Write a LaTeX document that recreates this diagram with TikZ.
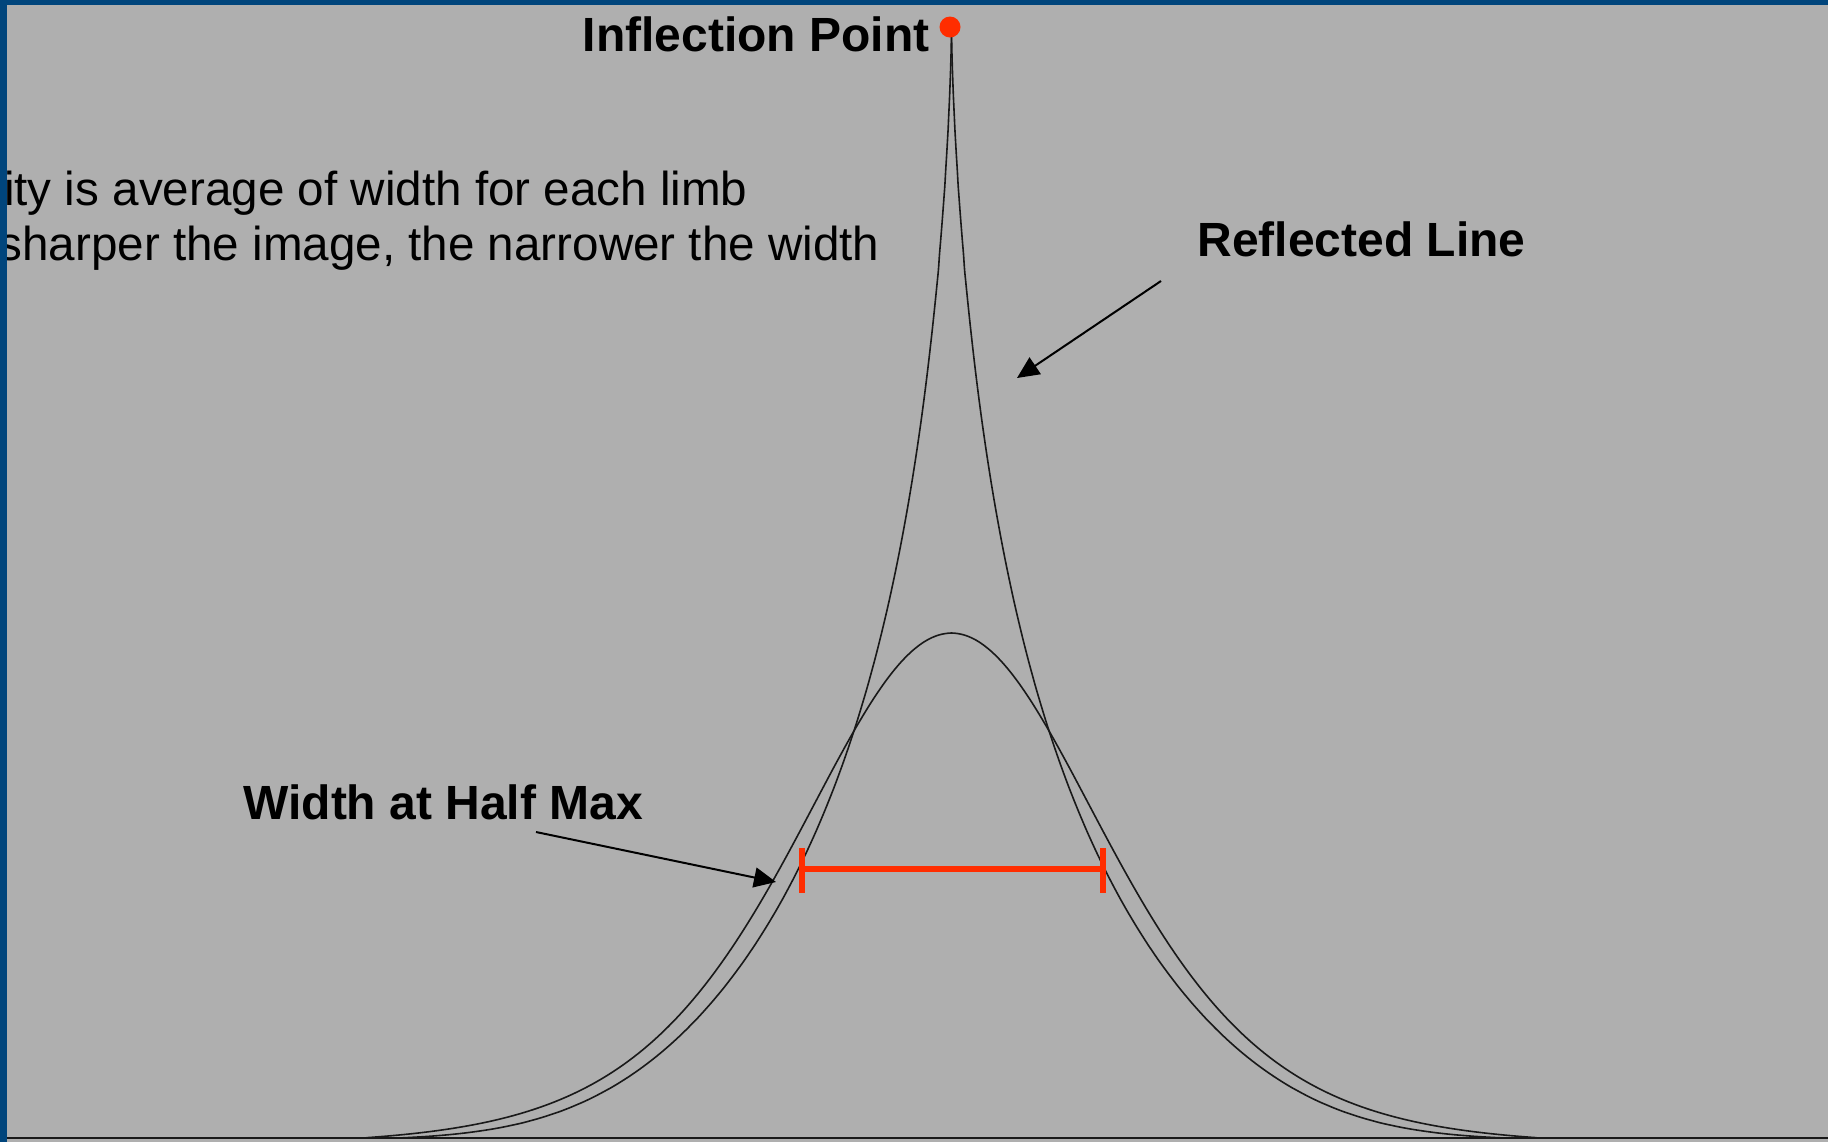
\documentclass[tikz,border=0pt]{standalone}
\usepackage{fontspec}
\setmainfont{Liberation Sans}
\usetikzlibrary{arrows.meta}
\definecolor{bg}{RGB}{175,175,175}
\definecolor{frameblue}{RGB}{0,69,124}
\definecolor{hotred}{RGB}{255,45,0}
\definecolor{curvecol}{RGB}{25,25,25}
\begin{document}
\begin{tikzpicture}[x=0.5pt,y=-0.5pt,
  lbl/.style={font=\bfseries\fontsize{24}{28}\selectfont, inner sep=0pt},
  body/.style={font=\fontsize{23.8}{28}\selectfont, inner sep=0pt},
  curveline/.style={draw=curvecol, line width=0.8pt, line join=round},
  pointer/.style={draw=black, line width=1pt, -{Triangle[length=11pt,width=10pt]}},
  bar/.style={draw=hotred, line width=2.8pt}]
\useasboundingbox (0,0) rectangle (1828,1142);
\fill[bg] (0,0) rectangle (1828,1142);
% body text (clipped at the left edge, as in the reference)
\begin{scope}
\clip (0,0) rectangle (1828,1142);
\node[body, anchor=base east] (line1) at (748,205) {ity is average of width for each limb};
\node[body, anchor=base east] (line2) at (880,260) {sharper the image, the narrower the width};
\end{scope}
% baseline
\coordinate (bl) at (7,1138);
\coordinate (br) at (1828,1138);
\draw[draw=curvecol, line width=0.75pt] (bl) -- (br);
% curves
\begin{scope}[shift={(951.5,0)}]
% rounded (half max) curve
\draw[curveline] plot[domain=-585:585, samples=241, smooth] (\x, {1138 - max(512/((cosh(\x/208))^2) - 7, 0)});
% reflected (cusp) line, left and right limbs
\draw[curveline] plot[domain=0.2:23.8, samples=160, smooth, variable=\t]
  ({-\t*\t}, {1138 - max(1111*exp(0 - ((\t*\t/100)^0.7) - ((\t*\t/384)^3)) - 2, 0)});
\draw[curveline] plot[domain=0.2:23.8, samples=160, smooth, variable=\t]
  ({\t*\t}, {1138 - max(1111*exp(0 - ((\t*\t/100)^0.7) - ((\t*\t/384)^3)) - 2, 0)});
\end{scope}
% width at half max bar
\coordinate (hl) at (802,869);
\coordinate (hr) at (1103,869);
\coordinate (hlt) at (802,848);
\coordinate (hlb) at (802,893);
\coordinate (hrt) at (1103,848);
\coordinate (hrb) at (1103,893);
\draw[bar] (hl) -- (hr);
\draw[draw=hotred, line width=3pt] (hlt) -- (hlb);
\draw[draw=hotred, line width=3pt] (hrt) -- (hrb);
% inflection point
\node[circle, fill=hotred, inner sep=0pt, minimum size=10.5pt] (ip) at (950,27) {};
% labels
\node[lbl, anchor=base east] (infl) at (930,51) {Inflection Point};
\node[lbl, anchor=base west] (refl) at (1197,256) {Reflected Line};
\node[lbl, anchor=base west] (whm) at (243,819) {Width at Half Max};
% pointers
\coordinate (ras) at (1161,281);
\coordinate (rat) at (1017,378);
\draw[pointer] (ras) -- (rat);
\coordinate (was) at (536,832);
\coordinate (wat) at (776,882);
\draw[pointer] (was) -- (wat);
% frame
\fill[frameblue] (0,0) rectangle (1828,5);
\fill[frameblue] (0,0) rectangle (7,1142);
\end{tikzpicture}
\end{document}
